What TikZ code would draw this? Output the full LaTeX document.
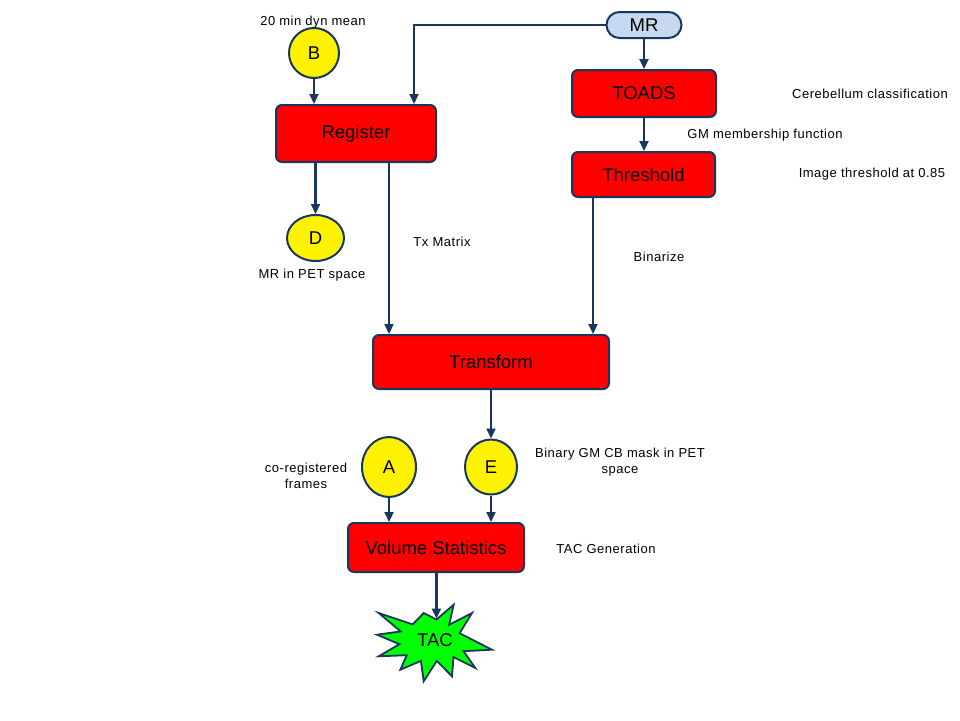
\documentclass[tikz,border=0pt]{standalone}
\usepackage{fontspec}
\setmainfont{Liberation Sans}
\newfontfamily\labfont[LetterSpace=4]{Liberation Sans}
\usetikzlibrary{shapes.misc,shapes.geometric,arrows.meta}
\definecolor{navy}{HTML}{17375E}
\definecolor{lblue}{HTML}{C6D9F1}
\definecolor{starg}{HTML}{00FF00}
\begin{document}
\begin{tikzpicture}[x=1pt,y=-1pt,
  box/.style={draw=navy,line width=2pt,fill=red,rounded corners=6pt,inner sep=0pt,font=\fontsize{18.5}{22}\selectfont},
  circ/.style={draw=navy,line width=2pt,fill=yellow,shape=ellipse,inner sep=0pt,font=\fontsize{18.5}{22}\selectfont},
  lab/.style={font=\labfont\fontsize{13}{15.5}\selectfont,align=center,inner sep=0pt},
  arr/.style={draw=navy,line width=2.2pt,-{Triangle[length=10pt,width=9pt]}},
  star/.style={draw=navy,line width=1.8pt,fill=starg,line join=miter,miter limit=20}]
\useasboundingbox (0,0) rectangle (960,720);
% star outline
\draw[star] (378.7,613) -- (412.6,624.4) -- (423.7,613) -- (436.4,619.5) -- (453.7,604.7)
  -- (449.1,624.8) -- (472,613) -- (459.6,633.2) -- (492,649.7) -- (463.6,651.2)
  -- (475.3,668) -- (453.5,657) -- (452,676.3) -- (436.8,660.9) -- (423.7,681.3)
  -- (420.9,660.9) -- (400.3,669.7) -- (406.8,655.2) -- (378.7,656.3) -- (399.4,644.2)
  -- (377,634.7) -- (400.7,631.4) -- cycle;
% nodes
\node[draw=navy,line width=2pt,fill=lblue,rounded rectangle,minimum width=75pt,minimum height=26pt,inner sep=0pt,font=\fontsize{18.5}{22}\selectfont] (mr) at (644,25) {MR};
\node[box,minimum width=144pt,minimum height=47pt] (toads) at (644,93.5) {TOADS};
\node[box,minimum width=143pt,minimum height=45pt] (thr) at (643.5,174.5) {Threshold};
\node[box,minimum width=160pt,minimum height=57pt] (reg) at (356,133.5) {Register};
\node[circ,minimum width=50pt,minimum height=50pt] (b) at (314,53) {B};
\node[circ,minimum width=57pt,minimum height=46pt] (d) at (315.5,238) {D};
\node[box,minimum width=236pt,minimum height=54pt] (tr) at (491,362) {Transform};
\node[circ,minimum width=54pt,minimum height=60pt] (a) at (389,467) {A};
\node[circ,minimum width=52pt,minimum height=55pt] (e) at (491,467) {E};
\node[box,minimum width=176pt,minimum height=49pt] (vs) at (436,547.5) {Volume Statistics};
\node[inner sep=0pt,font=\fontsize{18.5}{22}\selectfont] (tac) at (435,640) {TAC};
\coordinate (tactop) at (436.4,618.5);
\coordinate (mrturn) at (414,25);
% labels
\node[lab] (l1) at (313,22) {20 min dyn mean};
\node[lab] (l2) at (312,275) {MR in PET space};
\node[lab] (l3) at (870,94) {Cerebellum classification};
\node[lab] (l4) at (765,135) {GM membership function};
\node[lab] (l5) at (872,174) {Image threshold at 0.85};
\node[lab] (l6) at (442,242) {Tx Matrix};
\node[lab] (l7) at (659,257) {Binarize};
\node[lab] (l8) at (620,462) {Binary GM CB mask in PET\\space};
\node[lab] (l9) at (306,476) {co-registered\\frames};
\node[lab] (l10) at (606,549) {TAC Generation};
% arrows
\draw[arr] (mr.west) -- (mrturn) -- (reg.north -| mrturn);
\draw[arr] (mr.south) -- (toads.north);
\draw[arr] (toads.south) -- (thr.north -| toads.south);
\draw[arr] (b.south) -- (reg.north -| b.south);
\draw[arr] (reg.south -| d.north) -- (d.north);
\draw[arr] (reg.south -| 389,0) -- (tr.north -| 389,0);
\draw[arr] (thr.south -| 593,0) -- (tr.north -| 593,0);
\draw[arr] (tr.south -| e.north) -- (e.north);
\draw[arr] (a.south) -- (vs.north -| a.south);
\draw[arr] (e.south) -- (vs.north -| e.south);
\draw[arr] (vs.south -| tactop) -- (tactop);
\end{tikzpicture}
\end{document}
